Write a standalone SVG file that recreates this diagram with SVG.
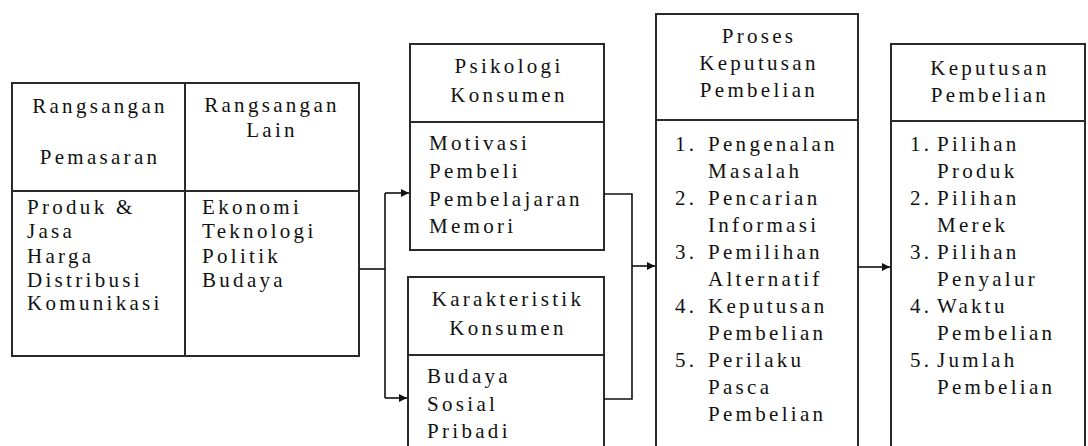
<svg xmlns="http://www.w3.org/2000/svg" width="1088" height="446" viewBox="0 0 1088 446" font-family="Liberation Serif, Times New Roman, Tinos, DejaVu Serif, serif">
<style>
  .box { fill: #fff; stroke: #2a2a2a; stroke-width: 2; }
  .div { stroke: #2a2a2a; stroke-width: 2; fill: none; }
  .conn { stroke: #111; stroke-width: 1.6; fill: none; }
  .t { font-size: 21px; fill: #111; letter-spacing: 3.3px; }
  .c { text-anchor: middle; }
</style>
<defs>
  <marker id="arr" viewBox="0 0 10 10" refX="10" refY="5" markerWidth="10" markerHeight="8" markerUnits="userSpaceOnUse" orient="auto">
    <path d="M0,0 L10,5 L0,10 z" fill="#111"/>
  </marker>
</defs>
<rect width="1088" height="446" fill="#fff"/>

<g class="t">
<g id="rangsangan">
  <rect class="box" x="12" y="83" width="347" height="273"/>
  <line class="div" x1="185" y1="83" x2="185" y2="356"/>
  <line class="div" x1="12" y1="191" x2="359" y2="191"/>
  <text class="c" x="100" y="113">Rangsangan</text>
  <text class="c" x="100" y="164">Pemasaran</text>
  <text class="c" x="272" y="112">Rangsangan</text>
  <text class="c" x="272" y="137">Lain</text>
  <text x="27" y="214">Produk &amp;</text>
  <text x="27" y="238">Jasa</text>
  <text x="27" y="263">Harga</text>
  <text x="27" y="287">Distribusi</text>
  <text x="27" y="310">Komunikasi</text>
  <text x="202" y="214">Ekonomi</text>
  <text x="202" y="238">Teknologi</text>
  <text x="202" y="263">Politik</text>
  <text x="202" y="287">Budaya</text>
</g>

<g id="psikologi">
  <rect class="box" x="410" y="44" width="194" height="206"/>
  <line class="div" x1="410" y1="122" x2="604" y2="122"/>
  <text class="c" x="509" y="73">Psikologi</text>
  <text class="c" x="509" y="102">Konsumen</text>
  <text x="429" y="150">Motivasi</text>
  <text x="429" y="178">Pembeli</text>
  <text x="429" y="206">Pembelajaran</text>
  <text x="429" y="233">Memori</text>
</g>

<g id="karakteristik">
  <rect class="box" x="408" y="277" width="196" height="190"/>
  <line class="div" x1="408" y1="355" x2="604" y2="355"/>
  <text class="c" x="508" y="306">Karakteristik</text>
  <text class="c" x="508" y="335">Konsumen</text>
  <text x="427" y="383">Budaya</text>
  <text x="427" y="411">Sosial</text>
  <text x="427" y="438">Pribadi</text>
</g>

<g id="proses">
  <rect class="box" x="656" y="14" width="202" height="460"/>
  <line class="div" x1="656" y1="120" x2="858" y2="120"/>
  <text class="c" x="759" y="43">Proses</text>
  <text class="c" x="759" y="70">Keputusan</text>
  <text class="c" x="759" y="97">Pembelian</text>
  <text x="675" y="151">1.</text><text x="708" y="151">Pengenalan</text>
  <text x="708" y="178">Masalah</text>
  <text x="675" y="205">2.</text><text x="708" y="205">Pencarian</text>
  <text x="708" y="232">Informasi</text>
  <text x="675" y="259">3.</text><text x="708" y="259">Pemilihan</text>
  <text x="708" y="286">Alternatif</text>
  <text x="675" y="313">4.</text><text x="708" y="313">Keputusan</text>
  <text x="708" y="340">Pembelian</text>
  <text x="675" y="367">5.</text><text x="708" y="367">Perilaku</text>
  <text x="708" y="394">Pasca</text>
  <text x="708" y="421">Pembelian</text>
</g>

<g id="keputusan">
  <rect class="box" x="891" y="44" width="194" height="430"/>
  <line class="div" x1="891" y1="121" x2="1085" y2="121"/>
  <text class="c" x="990" y="75">Keputusan</text>
  <text class="c" x="990" y="102">Pembelian</text>
  <text x="910" y="151">1.</text><text x="937" y="151">Pilihan</text>
  <text x="937" y="178">Produk</text>
  <text x="910" y="205">2.</text><text x="937" y="205">Pilihan</text>
  <text x="937" y="232">Merek</text>
  <text x="910" y="259">3.</text><text x="937" y="259">Pilihan</text>
  <text x="937" y="286">Penyalur</text>
  <text x="910" y="313">4.</text><text x="937" y="313">Waktu</text>
  <text x="937" y="340">Pembelian</text>
  <text x="910" y="367">5.</text><text x="937" y="367">Jumlah</text>
  <text x="937" y="394">Pembelian</text>
</g>
</g>

<g id="connectors">
  <line class="conn" x1="359" y1="269" x2="385" y2="269"/>
  <line class="conn" x1="385" y1="193" x2="385" y2="398"/>
  <line class="conn" x1="385" y1="193" x2="409" y2="193" marker-end="url(#arr)"/>
  <line class="conn" x1="385" y1="398" x2="407" y2="398" marker-end="url(#arr)"/>
  <polyline class="conn" points="604,194 632,194 632,399 604,399"/>
  <line class="conn" x1="632" y1="266" x2="655" y2="266" marker-end="url(#arr)"/>
  <line class="conn" x1="858" y1="267" x2="890" y2="267" marker-end="url(#arr)"/>
</g>
</svg>
